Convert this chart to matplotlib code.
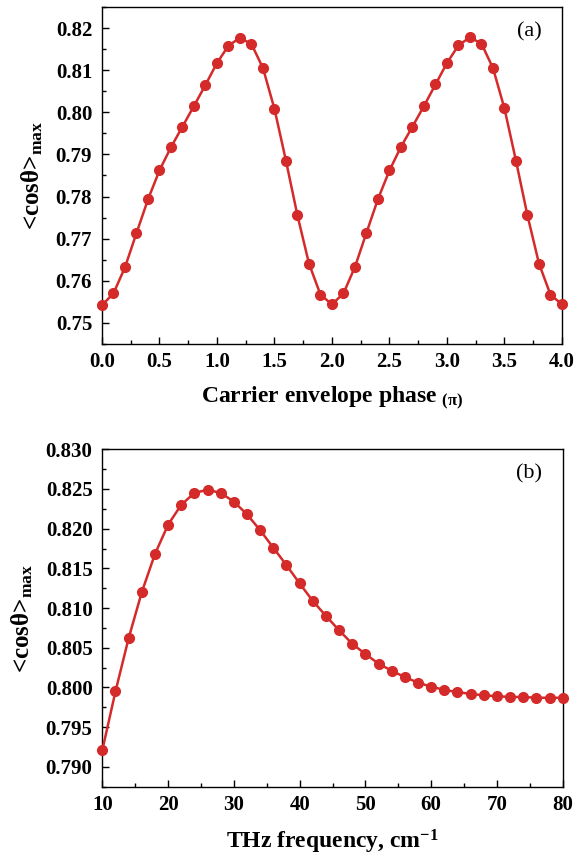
import matplotlib
matplotlib.use("Agg")
import matplotlib.pyplot as plt
from matplotlib.ticker import MultipleLocator, FormatStrFormatter

plt.rcParams["font.family"] = ["Liberation Serif", "DejaVu Serif"]
plt.rcParams["font.weight"] = "bold"
plt.rcParams["axes.labelweight"] = "bold"
plt.rcParams["mathtext.fontset"] = "custom"
plt.rcParams["mathtext.rm"] = "Liberation Serif:bold"
plt.rcParams["mathtext.bf"] = "Liberation Serif:bold"
plt.rcParams["mathtext.it"] = "Liberation Serif:bold"

# panel (a): carrier envelope phase (units of pi)
phase = [round(0.1 * i, 1) for i in range(41)]
cos_phase = [
    0.7542, 0.7570, 0.7632, 0.7713, 0.7793, 0.7862, 0.7917, 0.7966, 0.8015, 0.8065,
    0.8117, 0.8158, 0.8177, 0.8162, 0.8105, 0.8008, 0.7885, 0.7755, 0.7641, 0.7567,
    0.7544, 0.7570, 0.7633, 0.7714, 0.7794, 0.7862, 0.7918, 0.7966, 0.8015, 0.8066,
    0.8117, 0.8159, 0.8178, 0.8163, 0.8105, 0.8009, 0.7885, 0.7755, 0.7641, 0.7567,
    0.7544,
]

# panel (b): THz frequency (cm^-1)
freq = list(range(10, 81, 2))
cos_freq = [
    0.7921, 0.7995, 0.8062, 0.8120, 0.8168, 0.8205, 0.8230, 0.8245, 0.8249, 0.8245,
    0.8234, 0.8218, 0.8198, 0.8176, 0.8154, 0.8131, 0.8109, 0.8090, 0.8072, 0.8055,
    0.8042, 0.8030, 0.8021, 0.8013, 0.8006, 0.8001, 0.7997, 0.7994, 0.7992, 0.7990,
    0.7989, 0.7988, 0.7988, 0.7987, 0.7987, 0.7987,
]

RED = "#d42a2a"

fig = plt.figure(figsize=(5.86, 8.61), dpi=100)
ax1 = fig.add_axes([0.174, 0.6005, 0.785, 0.3914])
ax2 = fig.add_axes([0.1746, 0.0863, 0.7857, 0.3919])

ylabel = r"<cos$\theta$>$_{\mathbf{max}}$"


def style(ax):
    for s in ax.spines.values():
        s.set_linewidth(1.0)
    ax.tick_params(which="both", direction="in", labelsize=15, width=1.0)
    ax.tick_params(which="major", length=5, pad=6)
    ax.tick_params(which="minor", length=3)
    ax.tick_params(axis="y", which="major", pad=7)


ax1.plot(phase, cos_phase, "-o", color=RED, lw=1.8, ms=7, clip_on=False, zorder=3)
ax1.set_xlim(0, 4)
ax1.set_ylim(0.745, 0.825)
ax1.xaxis.set_major_locator(MultipleLocator(0.5))
ax1.xaxis.set_minor_locator(MultipleLocator(0.25))
ax1.yaxis.set_major_locator(MultipleLocator(0.01))
ax1.yaxis.set_minor_locator(MultipleLocator(0.005))
ax1.xaxis.set_major_formatter(FormatStrFormatter("%.1f"))
ax1.yaxis.set_major_formatter(FormatStrFormatter("%.2f"))
style(ax1)
ax1.set_xlabel("Carrier envelope phase $_{(\\pi)}$", fontsize=17, labelpad=9)
ax1.set_ylabel(ylabel, fontsize=18, labelpad=8)
ax1.text(0.955, 0.955, "(a)", transform=ax1.transAxes, ha="right", va="top",
         fontsize=16, fontweight="normal")

ax2.plot(freq, cos_freq, "-o", color=RED, lw=1.8, ms=7, clip_on=False, zorder=3)
ax2.set_xlim(10, 80)
ax2.set_ylim(0.7875, 0.830)
ax2.xaxis.set_major_locator(MultipleLocator(10))
ax2.xaxis.set_minor_locator(MultipleLocator(5))
ax2.yaxis.set_major_locator(MultipleLocator(0.005))
ax2.yaxis.set_minor_locator(MultipleLocator(0.0025))
ax2.yaxis.set_major_formatter(FormatStrFormatter("%.3f"))
style(ax2)
ax2.set_xlabel("THz frequency, cm$^{\\mathbf{-1}}$", fontsize=17, labelpad=9)
ax2.set_ylabel(ylabel, fontsize=18, labelpad=8)
ax2.text(0.955, 0.955, "(b)", transform=ax2.transAxes, ha="right", va="top",
         fontsize=16, fontweight="normal")

fig.savefig("out.png", dpi=100)
plt.close(fig)
